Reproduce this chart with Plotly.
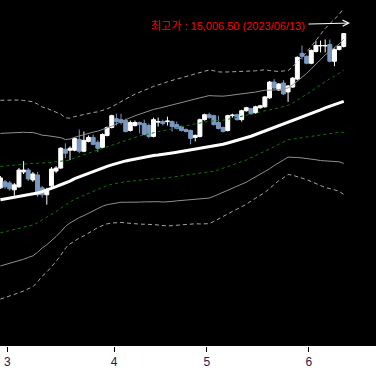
import pandas as pd
import plotly.graph_objects as go

# ---- trading days (daily candles) ----
trade_dates = pd.bdate_range("2023-02-27", "2023-06-12")
trade_dates = trade_dates[trade_dates != pd.Timestamp("2023-05-29")]
idx = list(range(len(trade_dates)))

# ---- OHLC ----
open_ = [12256, 12362, 12344, 12221, 12274, 12538, 12573, 12397, 12485, 12256,
         12133, 12291, 12555, 12608, 12942, 12925, 12925, 13118, 12907, 13083,
         13154, 13066, 12978, 13189, 13330, 13488, 13470, 13453, 13277, 13365,
         13418, 13400, 13365, 13171, 13426, 13435, 13435, 13435, 13382, 13347,
         13294, 13277, 13154, 13171, 13470, 13558, 13541, 13418, 13330, 13277,
         13541, 13558, 13470, 13629, 13664, 13594, 13682, 13699, 13858, 14139,
         13998, 14122, 13963, 14051, 14192, 14650, 14597, 14474, 14685, 14782,
         14782, 14808, 14509, 14720, 14773]
high = [12467, 12397, 12379, 12344, 12608, 12731, 12608, 12538, 12538, 12291,
        12256, 12626, 12643, 12978, 13048, 12995, 13154, 13294, 13259, 13189,
        13206, 13101, 13224, 13347, 13558, 13576, 13576, 13488, 13453, 13453,
        13435, 13470, 13400, 13506, 13506, 13470, 13523, 13453, 13435, 13365,
        13312, 13294, 13206, 13488, 13576, 13594, 13558, 13541, 13347, 13558,
        13576, 13576, 13646, 13699, 13682, 13717, 13734, 13893, 14157, 14192,
        14122, 14174, 14086, 14227, 14597, 14790, 14614, 14720, 14878, 14878,
        14896, 14896, 14738, 14790, 15006.5]
low = [12238, 12238, 12203, 12115, 12256, 12502, 12379, 12362, 12098, 12080,
       11957, 12221, 12520, 12590, 12784, 12749, 12907, 12872, 12890, 13066,
       13013, 12890, 12960, 13171, 13312, 13365, 13382, 13242, 13259, 13347,
       13224, 13189, 13136, 13154, 13347, 13365, 13365, 13259, 13294, 13259,
       13242, 13030, 13083, 13154, 13453, 13488, 13365, 13294, 13242, 13259,
       13506, 13453, 13435, 13611, 13558, 13576, 13664, 13682, 13840, 14016,
       13981, 13910, 13787, 14034, 14174, 14544, 14456, 14456, 14667, 14667,
       14667, 14491, 14421, 14702, 14755]
close = [12432, 12274, 12238, 12309, 12573, 12573, 12414, 12502, 12133, 12133,
         12221, 12590, 12608, 12960, 12872, 12960, 13136, 12907, 13101, 13154,
         13030, 12960, 13206, 13330, 13541, 13435, 13418, 13259, 13418, 13418,
         13382, 13206, 13171, 13470, 13435, 13400, 13444, 13347, 13312, 13277,
         13259, 13136, 13189, 13470, 13558, 13506, 13382, 13312, 13259, 13541,
         13550, 13470, 13629, 13682, 13576, 13699, 13717, 13875, 14139, 14034,
         14104, 13928, 14069, 14210, 14579, 14597, 14474, 14702, 14790, 14790,
         14790, 14509, 14720, 14773, 15002]

# ---- moving average (centre line) and its standard deviation ----
ma_center = [12045, 12059, 12075, 12089, 12103, 12115, 12129, 12142, 12164, 12189,
             12214, 12240, 12277, 12311, 12342, 12377, 12420, 12453, 12485, 12516,
             12548, 12580, 12610, 12638, 12664, 12691, 12717, 12735, 12751, 12768,
             12786, 12802, 12817, 12832, 12839, 12847, 12861, 12876, 12890, 12904,
             12920, 12935, 12951, 12960, 12974, 12986, 12999, 13013, 13032, 13055,
             13078, 13101, 13122, 13145, 13175, 13205, 13236, 13266, 13294, 13324,
             13356, 13386, 13418, 13446, 13476, 13506, 13536, 13571, 13608, 13643,
             13678, 13710, 13738, 13768, 13796]
ma_sigma = [590, 586, 581, 577, 572, 565, 556, 549, 528, 502,
            486, 466, 444, 419, 387, 373, 368, 364, 361, 357,
            350, 343, 341, 341, 345, 352, 359, 368, 377, 385,
            392, 398, 403, 410, 415, 422, 428, 431, 433, 436,
            438, 442, 445, 449, 452, 456, 447, 436, 428, 421,
            414, 408, 403, 394, 385, 378, 371, 364, 350, 336,
            324, 317, 308, 322, 340, 359, 378, 401, 426, 451,
            472, 489, 507, 524, 553]

band_styles = [  # (multiplier, colour, dash)
    (3, "#a6a6a6", "4px,3px"),
    (2, "#8f8f8f", "solid"),
    (1, "#0b7a0b", "3px,3px"),
]

high_date = "2023/06/13"

fig = go.Figure()

for k, col, dash in band_styles:
    for sign in (1, -1):
        fig.add_trace(go.Scatter(
            x=idx, y=[m + sign * k * s for m, s in zip(ma_center, ma_sigma)],
            mode="lines", line=dict(color=col, width=1, dash=dash),
            hoverinfo="skip", showlegend=False))

fig.add_trace(go.Candlestick(
    x=idx, open=open_, high=high, low=low, close=close,
    increasing=dict(line=dict(color="#ffffff", width=1), fillcolor="#ffffff"),
    decreasing=dict(line=dict(color="#7b98c0", width=1), fillcolor="#7b98c0"),
    whiskerwidth=0, showlegend=False))

fig.add_trace(go.Scatter(
    x=idx, y=ma_center, mode="lines", line=dict(color="#ffffff", width=3),
    hoverinfo="skip", showlegend=False))

# month ticks at the boundary before the first trading day of each month
tickvals, ticktext = [], []
prev = None
for i, d in enumerate(trade_dates):
    if prev is not None and d.month != prev:
        tickvals.append(i - 0.5)
        ticktext.append(str(d.month))
    prev = d.month

fig.add_annotation(
    xref="paper", yref="paper", x=350 / 376, y=1 - 23.3 / 350,
    text=f"최고가 : {max(high):,.2f} ({high_date})",
    font=dict(family="Liberation Sans, Arial, Noto Sans CJK KR", size=11, color="#ff0000"),
    showarrow=True, ax=-122, ay=3, arrowcolor="#ffffff", arrowwidth=1,
    arrowhead=5, arrowsize=1.2, startstandoff=2)

fig.update_layout(
    width=376, height=369,
    margin=dict(l=0, r=0, t=0, b=19),
    paper_bgcolor="#ffffff", plot_bgcolor="#000000",
    boxgap=0.15, boxgroupgap=0,
    xaxis=dict(range=[-0.086, 80.95], showgrid=False, zeroline=False, showline=False,
               rangeslider=dict(visible=False), tickmode="array",
               tickvals=tickvals, ticktext=ticktext, ticks="outside", ticklen=5,
               tickcolor="#000000", tickwidth=1,
               tickfont=dict(family="Liberation Sans, Arial", size=12, color="#1c1c4c")),
    yaxis=dict(range=[9440, 15600], visible=False, showgrid=False, zeroline=False),
    hovermode=False,
)

fig.write_html(
    "out.html",
    config={"displayModeBar": False},
    post_script="document.body.style.margin='0';document.body.style.overflow='hidden';",
)
